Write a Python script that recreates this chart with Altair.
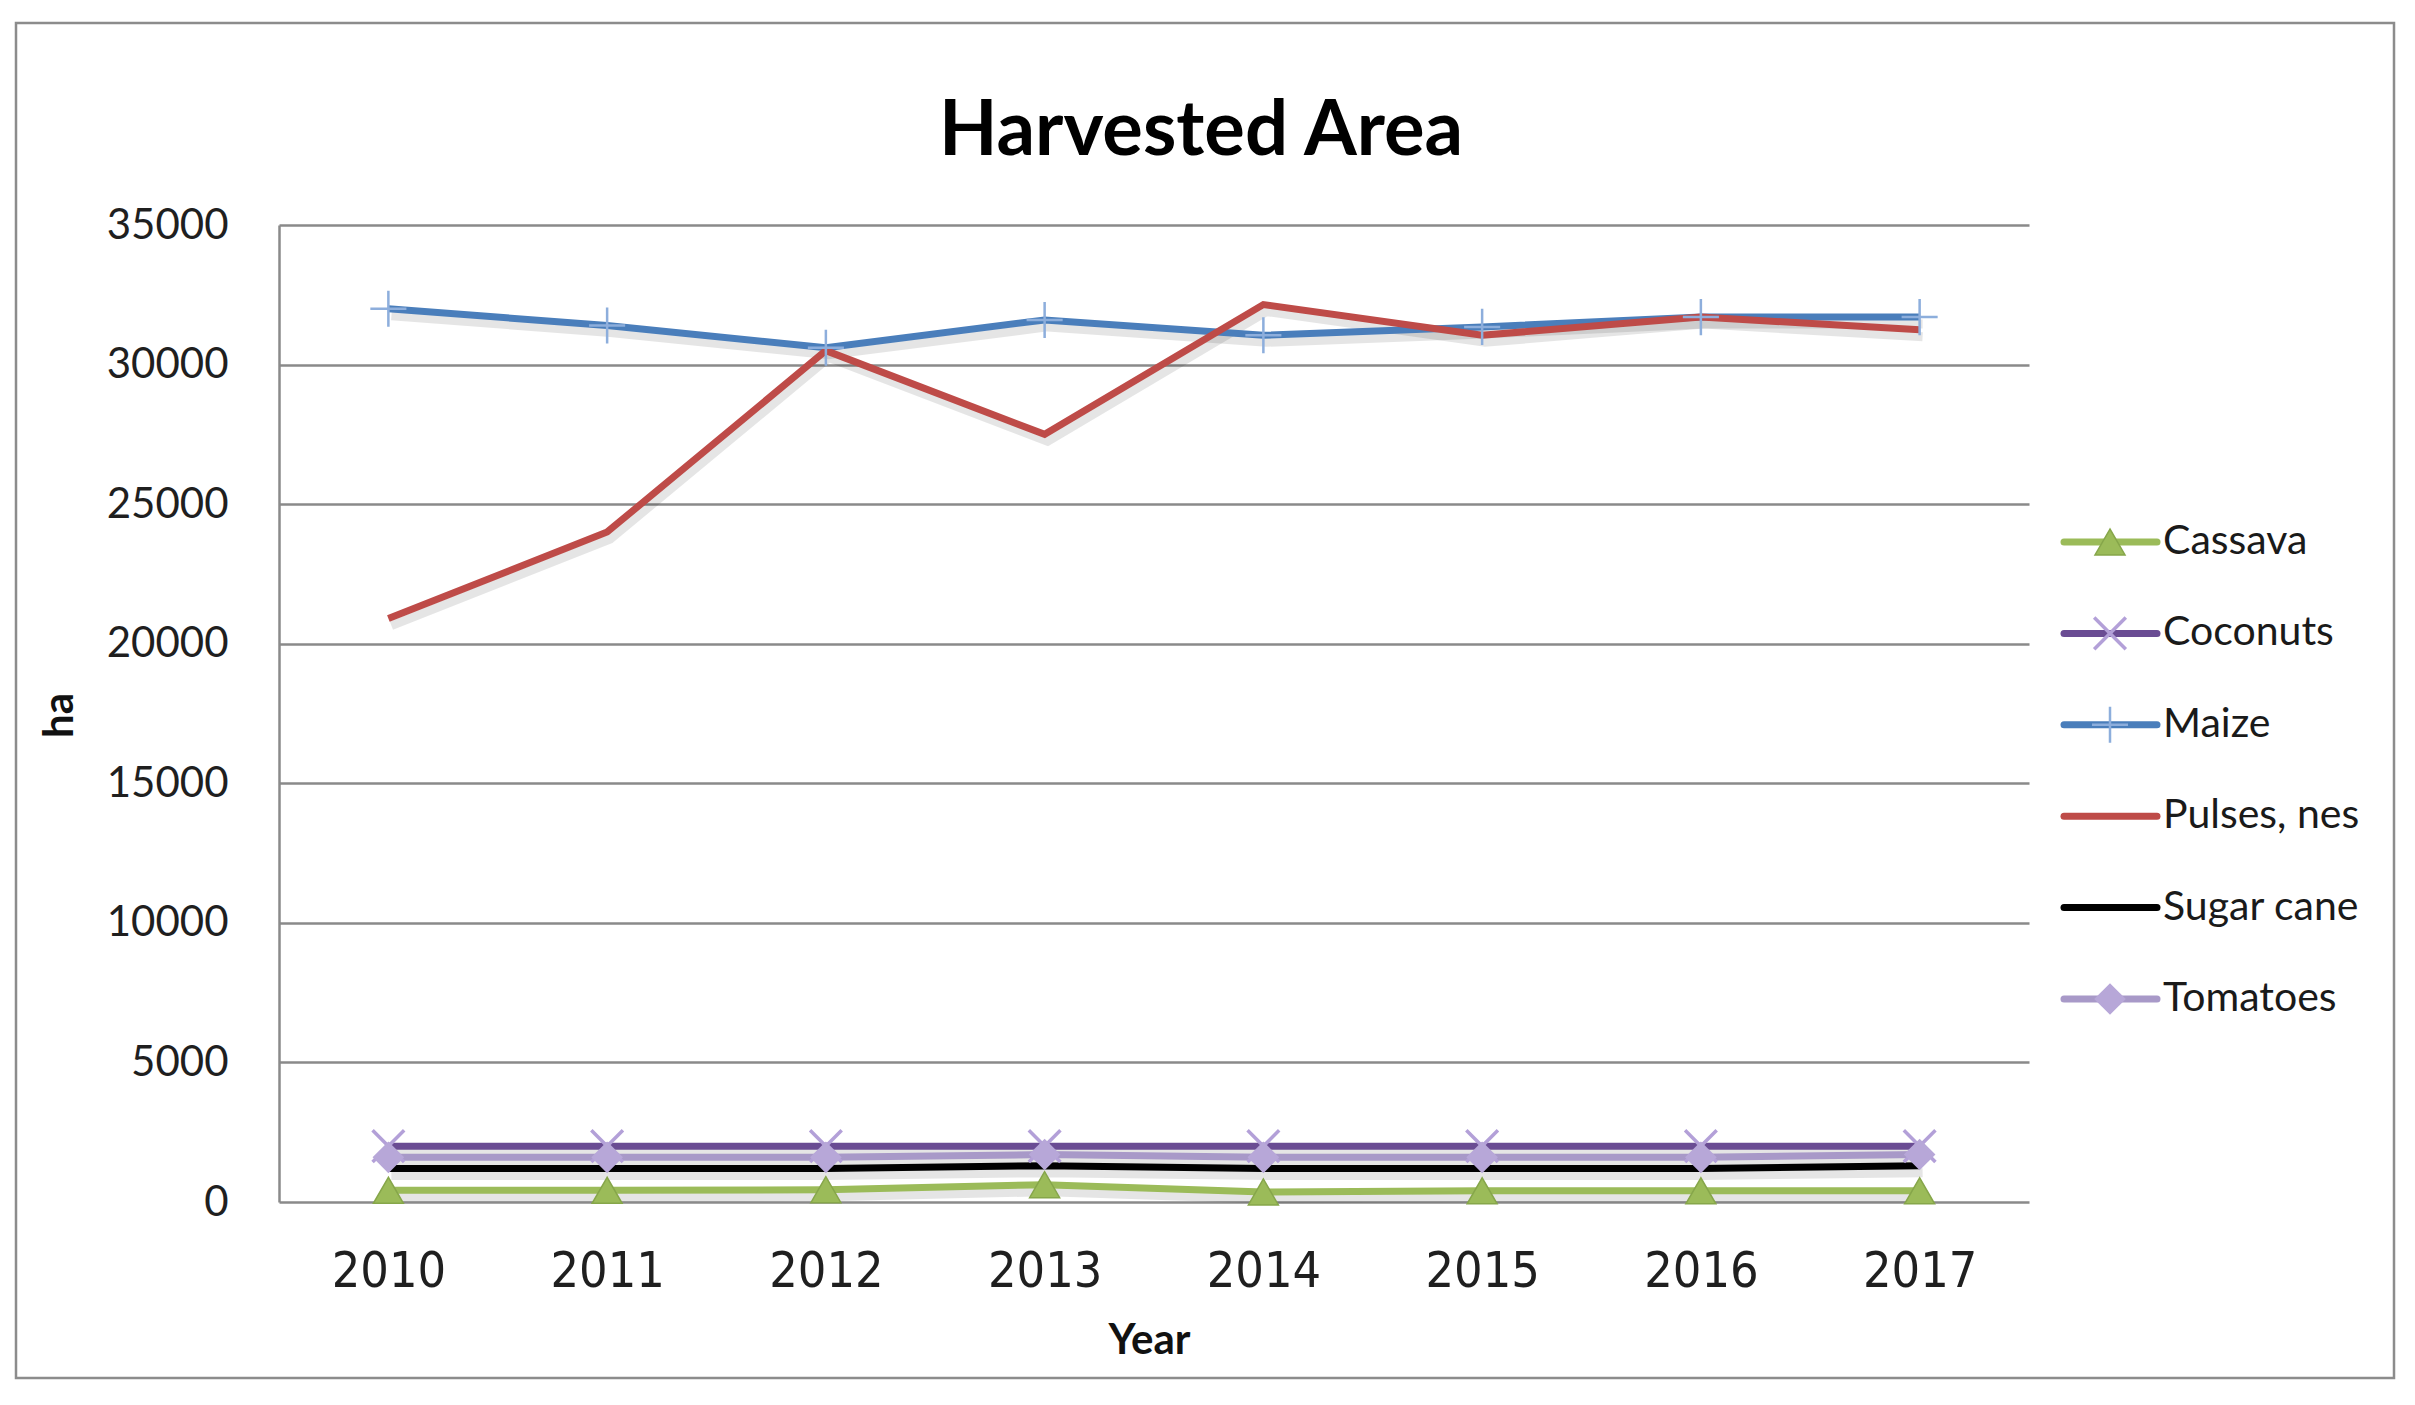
import altair as alt
import pandas as pd

# ---------------- data ----------------
years = ["2010", "2011", "2012", "2013", "2014", "2015", "2016", "2017"]
series_names = ["Cassava", "Coconuts", "Maize", "Pulses, nes", "Sugar cane", "Tomatoes"]

cassava = [420, 420, 440, 620, 360, 400, 400, 400]
coconuts = [2000, 2000, 2000, 2000, 2000, 2000, 2000, 2000]
maize = [32000, 31400, 30600, 31600, 31050, 31350, 31700, 31700]
pulses = [20900, 24000, 30500, 27500, 32150, 31050, 31700, 31250]
sugar_cane = [1200, 1200, 1200, 1300, 1200, 1200, 1200, 1300]
tomatoes = [1600, 1600, 1600, 1700, 1600, 1600, 1600, 1700]

y_ticks = [0, 5000, 10000, 15000, 20000, 25000, 30000, 35000]

line_colors = ["#9BBB59", "#6A4C93", "#4A7EBB", "#BE4B48", "#000000", "#A899C8"]
chart_title = "Harvested Area"

# ---------------- tables ----------------
values = [cassava, coconuts, maize, pulses, sugar_cane, tomatoes]
rows = []
for name, vals in zip(series_names, values):
    for yr, v in zip(years, vals):
        rows.append({"year": yr, "series": name, "value": v})
df = pd.DataFrame(rows)
legend_df = pd.DataFrame({"series": series_names})

# ---------------- layout (pixels) ----------------
W, H = 1750, 977
PAD = {"left": 271, "top": 217, "right": 378, "bottom": 188}

x_enc = alt.X(
    "year:O",
    scale=alt.Scale(type="point", padding=0.5, domain=years),
    axis=alt.Axis(
        title="Year",
        labelAngle=0,
        labelFont='"Liberation Sans Narrow", "DejaVu Sans Condensed", Roboto, sans-serif',
        labelFontSize=50,
        labelColor="#1f1f1f",
        labelBaseline="middle",
        labelPadding=69,
        ticks=False,
        tickSize=0,
        domain=False,
        grid=False,
        titleFont="Lato",
        titleFontSize=42,
        titleFontWeight="bold",
        titleColor="#111111",
        titleX=870,
        titleY=138,
        titleBaseline="middle",
        titleAlign="center",
    ),
)
y_enc = alt.Y(
    "value:Q",
    scale=alt.Scale(domain=[0, 35000], nice=False, zero=True),
    axis=alt.Axis(
        title="ha",
        values=y_ticks,
        format="d",
        labelFont="Lato",
        labelFontSize=42,
        labelColor="#1f1f1f",
        labelPadding=51,
        ticks=False,
        tickSize=0,
        domain=True,
        domainColor="#8a8a8a",
        domainWidth=2.5,
        grid=True,
        gridColor="#8a8a8a",
        gridWidth=2.5,
        titleFont="Lato",
        titleFontSize=42,
        titleFontWeight="bold",
        titleColor="#111111",
        titleX=-220,
        titleY=490,
        titleAngle=-90,
        titleBaseline="middle",
        titleAlign="center",
    ),
)
color_scale = alt.Scale(domain=series_names, range=line_colors)

base = alt.Chart(df)

shadow = base.mark_line(
    strokeWidth=9, color="#000000", opacity=0.10, xOffset=3, yOffset=7
).encode(x=x_enc, y=y_enc, detail="series:N")

lines = base.mark_line(strokeWidth=7, strokeCap="butt").encode(
    x=x_enc,
    y=y_enc,
    color=alt.Color("series:N", scale=color_scale, legend=None),
)

X_PATH = "M-1,-1L1,1M-1,1L1,-1"
PLUS_PATH = "M0,-1L0,1M-1,0L1,0"


def marker_layers(chart_base, x, y):
    return [
        chart_base.mark_point(shape="triangle-up", filled=True, size=900,
                              color="#9BBB59", opacity=1,
                              stroke="#86A64A", strokeWidth=1.5)
        .encode(x=x, y=y).transform_filter(alt.datum.series == "Cassava"),
        chart_base.mark_point(shape=X_PATH, filled=False, size=1000,
                              color="#B3A0D8", opacity=1, strokeWidth=3.5)
        .encode(x=x, y=y).transform_filter(alt.datum.series == "Coconuts"),
        chart_base.mark_point(shape=PLUS_PATH, filled=False, size=1300,
                              color="#8DAEDC", opacity=1, strokeWidth=2.5)
        .encode(x=x, y=y).transform_filter(alt.datum.series == "Maize"),
        chart_base.mark_point(shape="diamond", filled=True, size=1000,
                              color="#B7A7D8", opacity=1)
        .encode(x=x, y=y).transform_filter(alt.datum.series == "Tomatoes"),
    ]


main = alt.layer(shadow, lines, *marker_layers(base, x_enc, y_enc))

# ---------------- legend ----------------
leg_y = alt.Y(
    "series:N",
    scale=alt.Scale(type="point", domain=series_names, range=[317, 774], padding=0),
    axis=None,
)
leg_base = alt.Chart(legend_df)
leg_rules = leg_base.mark_rule(strokeWidth=7, strokeCap="round").encode(
    x=alt.value(1785), x2=alt.value(1878), y=leg_y,
    color=alt.Color("series:N", scale=color_scale, legend=None),
)
leg_text = leg_base.mark_text(
    align="left", baseline="middle", font="Lato", fontSize=41, color="#1a1a1a"
).encode(x=alt.value(1884), y=leg_y, text="series:N")
leg_markers = marker_layers(leg_base, alt.value(1831), leg_y)
legend = alt.layer(leg_rules, *leg_markers, leg_text)

# ---------------- border and title ----------------
border = alt.Chart(pd.DataFrame({"k": [0]})).mark_rect(
    fill=None, stroke="#8c8c8c", strokeWidth=2.5
).encode(
    x=alt.value(-263), x2=alt.value(2115), y=alt.value(-202), y2=alt.value(1153)
)
title = alt.Chart(pd.DataFrame({"t": [chart_title]})).mark_text(
    font="Lato", fontSize=76, fontWeight="bold", color="#000000",
    align="center", baseline="middle",
).encode(x=alt.value(922), y=alt.value(-93), text="t:N")

chart = (
    alt.layer(border, title, main, legend)
    .resolve_scale(y="independent")
    .properties(
        width=W,
        height=H,
        autosize=alt.AutoSizeParams(type="none"),
        padding=PAD,
        background="white",
    )
    .configure_view(stroke=None)
)

chart.save("out.html", embed_options={"renderer": "svg", "actions": False})
